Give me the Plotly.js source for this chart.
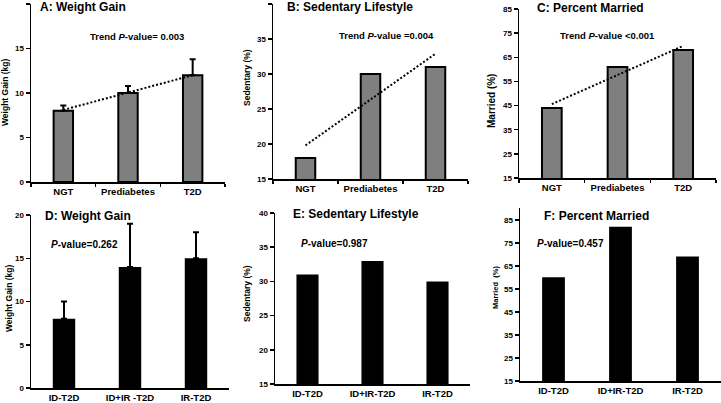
<!DOCTYPE html>
<html>
<head>
<meta charset="utf-8">
<script src="https://cdn.plot.ly/plotly-3.0.1.min.js"></script>
<style>html,body{margin:0;padding:0;background:#fff;}#chart{width:721px;height:403px;}</style>
</head>
<body>
<div id="chart"></div>
<script>
// ---- data ----
const catsTop = ['NGT', 'Prediabetes', 'T2D'];
const catsD = ['ID-T2D', 'ID+IR -T2D', 'IR-T2D'];
const catsEF = ['ID-T2D', 'ID+IR-T2D', 'IR-T2D'];

const weightGainA = [8, 10, 12];
const weightGainAErr = [0.6, 0.8, 1.8];
const sedentaryB = [18, 30, 31];
const marriedC = [44, 61, 68];

const trendA = [8.1, 12.0];
const trendB = [19.8, 32.9];
const trendC = [45.6, 69.7];

const weightGainD = [8, 14, 15];
const weightGainDErr = [2, 5, 3];
const sedentaryE = [31, 33, 30];
const marriedF = [60, 82, 69];

// ---- helpers ----
const W = 721, H = 403;
const fx = p => p / W;
const fy = p => 1 - p / H;
const FONT = 'Liberation Sans, Arial, sans-serif';

function xAxis(x0, x1, anchor, boundaryTicks) {
  const ax = {
    domain: [fx(x0), fx(x1)], anchor: anchor, type: 'category',
    range: [-0.5, 2.5], showline: true, linecolor: '#000', linewidth: 1.5,
    ticks: '', showgrid: false, zeroline: false, fixedrange: true,
    tickfont: {family: FONT, size: 9.5, color: '#000', weight: 'bold'}
  };
  if (boundaryTicks) {
    ax.ticks = 'outside'; ax.tickson = 'boundaries'; ax.ticklen = 3;
    ax.tickwidth = 1.5; ax.tickcolor = '#000';
  }
  return ax;
}
function yAxis(y0, y1, anchor, range, tick0, dtick) {
  return {
    domain: [fy(y1), fy(y0)], anchor: anchor, range: range,
    tick0: tick0, dtick: dtick, showline: true, linecolor: '#000', linewidth: 1.5,
    ticks: 'outside', ticklen: 4, tickwidth: 1.5, tickcolor: '#000',
    showgrid: false, zeroline: false, fixedrange: true,
    tickfont: {family: FONT, size: 8, color: '#000', weight: 'bold'}
  };
}

const grayBar = {color: '#7f7f7f', line: {color: '#000', width: 2}};
const blackBar = {color: '#000', line: {color: '#000', width: 0}};
const errStyle = (arr) => ({type: 'data', symmetric: false, array: arr, arrayminus: [0, 0, 0],
  color: '#000', thickness: 2, width: 3, visible: true});
const trendLine = {color: '#000', width: 2, dash: '2px,2px'};

const traces = [
  {type: 'bar', x: catsTop, y: weightGainA, xaxis: 'x', yaxis: 'y', width: 0.3, marker: grayBar, error_y: errStyle(weightGainAErr)},
  {type: 'scatter', mode: 'lines', x: [catsTop[0], catsTop[2]], y: trendA, xaxis: 'x', yaxis: 'y', line: trendLine},
  {type: 'bar', x: catsTop, y: sedentaryB, xaxis: 'x2', yaxis: 'y2', width: 0.3, marker: grayBar},
  {type: 'scatter', mode: 'lines', x: [catsTop[0], catsTop[2]], y: trendB, xaxis: 'x2', yaxis: 'y2', line: trendLine},
  {type: 'bar', x: catsTop, y: marriedC, xaxis: 'x3', yaxis: 'y3', width: 0.3, marker: grayBar},
  {type: 'scatter', mode: 'lines', x: [catsTop[0], catsTop[2]], y: trendC, xaxis: 'x3', yaxis: 'y3', line: trendLine},
  {type: 'bar', x: catsD, y: weightGainD, xaxis: 'x4', yaxis: 'y4', width: 0.34, marker: blackBar, error_y: errStyle(weightGainDErr)},
  {type: 'bar', x: catsEF, y: sedentaryE, xaxis: 'x5', yaxis: 'y5', width: 0.34, marker: blackBar},
  {type: 'bar', x: catsEF, y: marriedF, xaxis: 'x6', yaxis: 'y6', width: 0.34, marker: blackBar}
];

function ann(text, x, y, size, opts) {
  return Object.assign({
    text: text, xref: 'paper', yref: 'paper', x: fx(x), y: fy(y),
    xanchor: 'left', yanchor: 'middle', showarrow: false,
    font: {family: FONT, size: size, color: '#000', weight: 'bold'}
  }, opts || {});
}
function ytitle(text, x, y, size) {
  return ann(text, x, y, size, {xanchor: 'center', textangle: -90});
}

const layout = {
  width: W, height: H, margin: {l: 0, r: 0, t: 0, b: 0},
  paper_bgcolor: '#fff', plot_bgcolor: '#fff', showlegend: false,
  xaxis: xAxis(31, 225, 'y', true),
  yaxis: yAxis(4, 182, 'x', [0, 20], 0, 5),
  xaxis2: xAxis(273, 468, 'y2', true),
  yaxis2: yAxis(4, 179, 'x2', [15, 40], 15, 5),
  xaxis3: xAxis(519, 716, 'y3', true),
  yaxis3: yAxis(9, 178, 'x3', [15, 85], 15, 10),
  xaxis4: xAxis(31, 229, 'y4', false),
  yaxis4: yAxis(215, 388, 'x4', [0, 20], 0, 5),
  xaxis5: xAxis(275, 470, 'y5', false),
  yaxis5: yAxis(213, 384, 'x5', [15, 40], 15, 5),
  xaxis6: xAxis(520, 721, 'y6', false),
  yaxis6: yAxis(208, 381, 'x6', [15, 90.1], 15, 10),
  annotations: [
    ann('A: Weight Gain', 38, 7, 12),
    ann('B: Sedentary Lifestyle', 285, 7, 12),
    ann('C: Percent Married', 535, 8, 12),
    ann('D: Weight Gain', 43, 216, 12),
    ann('E: Sedentary Lifestyle', 291, 214, 12),
    ann('F: Percent Married', 542, 216, 12),
    ann('Trend <i>P</i>-value= 0.003', 88, 37, 9.5),
    ann('Trend <i>P</i>-value =0.004', 337, 36, 9.5),
    ann('Trend <i>P</i>-value <0.001', 558, 35, 9.5),
    ann('<i>P</i>-value=0.262', 49, 244, 10),
    ann('<i>P</i>-value=0.987', 299, 243, 10),
    ann('<i>P</i>-value=0.457', 535, 243, 10),
    ytitle('Weight Gain (kg)', 5, 92, 8.5),
    ytitle('Sedentary (%)', 247, 78, 8.5),
    ytitle('Married (%)', 491, 101, 10),
    ytitle('Weight Gain (kg)', 9, 298, 8.5),
    ytitle('Sedentary (%)', 247, 294, 8.5),
    ytitle('Married  (%)', 495, 288, 7.5)
  ]
};

Plotly.newPlot('chart', traces, layout, {displayModeBar: false, staticPlot: true});
</script>
</body>
</html>
